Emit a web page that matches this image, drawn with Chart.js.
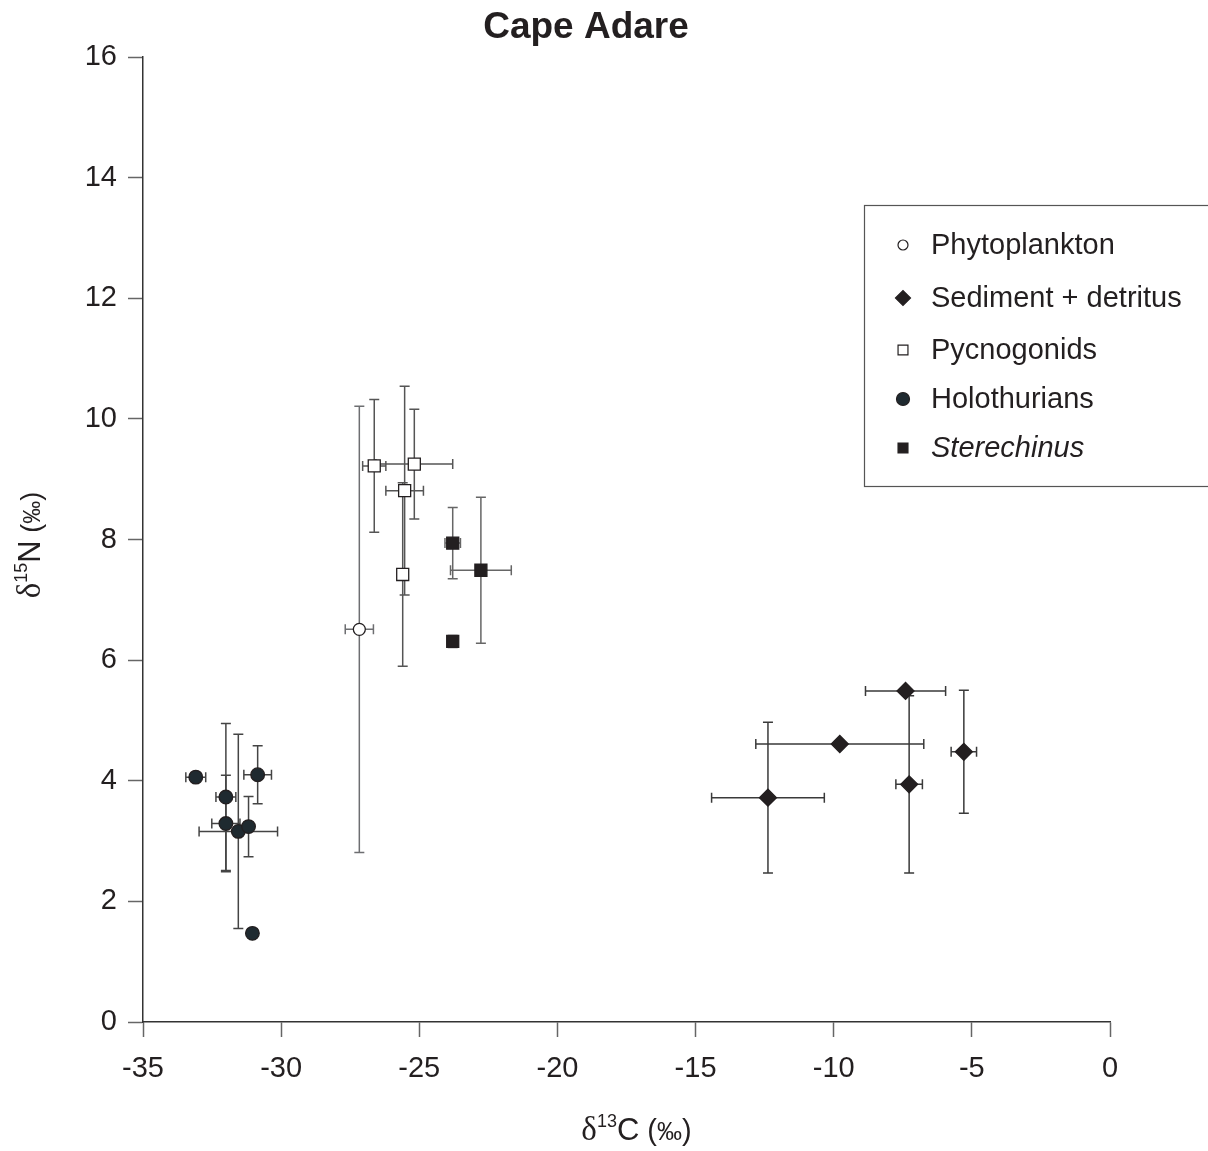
<!DOCTYPE html>
<html>
<head>
<meta charset="utf-8">
<script src="https://cdn.jsdelivr.net/npm/chart.js@4/dist/chart.umd.min.js"></script>
<style>
  html, body { margin: 0; padding: 0; background: #fff; }
  #wrap { width: 1208px; height: 1151px; }
</style>
</head>
<body>
<div id="wrap"><canvas id="chart" width="1208" height="1151"></canvas></div>
<script>
// values (delta 13C, delta 15N, and their +/- error)
const phytoX     = [-27.17];
const phytoY     = [6.51];
const phytoXErr  = [0.51];
const phytoYErr  = [3.70];

const sedX       = [-12.38, -9.78, -7.40, -7.27, -5.29];
const sedY       = [3.72, 4.61, 5.49, 3.94, 4.48];
const sedXErr    = [2.04, 3.04, 1.45, 0.48, 0.46];
const sedYErr    = [1.25, 0, 0, 1.47, 1.02];

const pycnoX     = [-26.63, -25.18, -25.53, -25.60];
const pycnoY     = [9.22, 9.25, 8.81, 7.42];
const pycnoXErr  = [0.42, 1.39, 0.68, 0];
const pycnoYErr  = [1.10, 0.91, 1.73, 1.52];

const holoX      = [-33.09, -32.00, -32.00, -31.55, -31.18, -30.85, -31.04];
const holoY      = [4.06, 3.73, 3.29, 3.16, 3.24, 4.10, 1.47];
const holoXErr   = [0.36, 0.36, 0.51, 1.42, 0, 0.50, 0];
const holoYErr   = [0, 1.22, 0.80, 1.61, 0.50, 0.48, 0];

const sterX      = [-23.79, -22.77, -23.79];
const sterY      = [7.94, 7.49, 6.31];
const sterXErr   = [0.28, 1.10, 0.10];
const sterYErr   = [0.59, 1.21, 0.10];

const xTicksMin = -35, xTicksMax = 0, xStep = 5;
const yTicksMin = 0, yTicksMax = 16, yStep = 2;

const INK  = '#231f20';
const FONT = '"Liberation Sans", Arial, sans-serif';

function toPoints(xs, ys, xe, ye) {
    return xs.map((x, i) => ({ x: x, y: ys[i], xErr: xe[i], yErr: ye[i] }));
}

const series = [
    { label: 'Phytoplankton',        data: toPoints(phytoX, phytoY, phytoXErr, phytoYErr),
      style: 'circle',  radius: 6,   fill: '#ffffff', bar: '#6d6e71', legendRadius: 5 },
    { label: 'Sediment + detritus',  data: toPoints(sedX, sedY, sedXErr, sedYErr),
      style: 'rectRot', radius: 8.5, fill: INK,       bar: '#3a3a3a', legendRadius: 7.5 },
    { label: 'Pycnogonids',          data: toPoints(pycnoX, pycnoY, pycnoXErr, pycnoYErr),
      style: 'rect',    radius: 8.5, fill: '#ffffff', bar: '#555555', legendRadius: 7 },
    { label: 'Holothurians',         data: toPoints(holoX, holoY, holoXErr, holoYErr),
      style: 'circle',  radius: 6.8, fill: '#1f2a30', bar: '#444444', legendRadius: 6.5 },
    { label: 'Sterechinus',          data: toPoints(sterX, sterY, sterXErr, sterYErr),
      style: 'rect',    radius: 8.5, fill: INK,       bar: '#666666', legendRadius: 7, italic: true },
];

const errorBars = {
    id: 'errorBars',
    beforeDatasetsDraw(chart) {
        const { ctx, scales: { x, y } } = chart;
        const cap = 5;
        ctx.save();
        ctx.lineWidth = 1.5;
        chart.data.datasets.forEach(ds => {
            ctx.strokeStyle = ds.barColor;
            ds.data.forEach(p => {
                const px = x.getPixelForValue(p.x);
                const py = y.getPixelForValue(p.y);
                ctx.beginPath();
                if (p.xErr) {
                    const l = x.getPixelForValue(p.x - p.xErr);
                    const r = x.getPixelForValue(p.x + p.xErr);
                    ctx.moveTo(l, py); ctx.lineTo(r, py);
                    ctx.moveTo(l, py - cap); ctx.lineTo(l, py + cap);
                    ctx.moveTo(r, py - cap); ctx.lineTo(r, py + cap);
                }
                if (p.yErr) {
                    const t = y.getPixelForValue(p.y + p.yErr);
                    const b = y.getPixelForValue(p.y - p.yErr);
                    ctx.moveTo(px, t); ctx.lineTo(px, b);
                    ctx.moveTo(px - cap, t); ctx.lineTo(px + cap, t);
                    ctx.moveTo(px - cap, b); ctx.lineTo(px + cap, b);
                }
                ctx.stroke();
            });
        });
        ctx.restore();
    }
};

// title, axis titles (with superscripts) and the boxed legend
const decorations = {
    id: 'decorations',
    afterDraw(chart) {
        const { ctx, chartArea: area } = chart;
        ctx.save();
        ctx.fillStyle = INK;
        ctx.textBaseline = 'alphabetic';

        ctx.font = 'bold 37px ' + FONT;
        ctx.textAlign = 'center';
        ctx.fillText('Cape Adare', 586, 38);

        // pieces of "δ13C (‰)" style titles
        function richTitle(parts) {
            let w = 0;
            parts.forEach(p => { ctx.font = p.font; p.w = ctx.measureText(p.t).width; w += p.w; });
            let cx = -w / 2;
            ctx.textAlign = 'left';
            parts.forEach(p => { ctx.font = p.font; ctx.fillText(p.t, cx, p.dy || 0); cx += p.w; });
        }
        const serif = '"Liberation Serif", "Times New Roman", serif';
        ctx.save();
        ctx.translate((area.left + area.right) / 2 + 10, 1140);
        richTitle([
            { t: 'δ', font: '33px ' + serif },
            { t: '13', font: '18px ' + FONT, dy: -13 },
            { t: 'C', font: '31px ' + FONT },
            { t: ' (', font: '29px ' + FONT },
            { t: '‰', font: '25px ' + FONT },
            { t: ')', font: '29px ' + FONT },
        ]);
        ctx.restore();

        ctx.save();
        ctx.translate(40, 545);
        ctx.rotate(-Math.PI / 2);
        richTitle([
            { t: 'δ', font: '33px ' + serif },
            { t: '15', font: '18px ' + FONT, dy: -13 },
            { t: 'N', font: '31px ' + FONT },
            { t: ' (', font: '27px ' + FONT },
            { t: '‰', font: '23px ' + FONT },
            { t: ')', font: '27px ' + FONT },
        ]);
        ctx.restore();

        // legend box
        ctx.strokeStyle = '#555';
        ctx.lineWidth = 1.2;
        ctx.strokeRect(864.5, 205.5, 360, 281);
        const rows = [245, 298, 350, 399, 448];
        chart.data.datasets.forEach((ds, i) => {
            ctx.fillStyle = ds.backgroundColor;
            ctx.strokeStyle = ds.borderColor;
            ctx.lineWidth = 1.2;
            Chart.helpers.drawPoint(ctx, {
                pointStyle: ds.pointStyle, rotation: 0, borderWidth: 1.2, radius: ds.legendRadius
            }, 903, rows[i]);
            ctx.fillStyle = INK;
            ctx.font = (ds.italic ? 'italic ' : '') + '29px ' + FONT;
            ctx.textAlign = 'left';
            ctx.textBaseline = 'middle';
            ctx.fillText(ds.label, 931, rows[i] + 1);
        });
        ctx.restore();
    }
};

new Chart(document.getElementById('chart'), {
    type: 'scatter',
    data: {
        datasets: series.map(s => ({
            label:            s.label,
            data:             s.data,
            pointStyle:       s.style,
            pointRadius:      s.radius,
            pointHoverRadius: s.radius,
            backgroundColor:  s.fill,
            borderColor:      INK,
            borderWidth:      1.3,
            barColor:         s.bar,
            legendRadius:     s.legendRadius,
            italic:           !!s.italic,
        }))
    },
    options: {
        responsive: false,
        animation:  false,
        layout: { padding: { top: 57, right: 98, bottom: 0, left: 0 } },
        plugins: {
            legend:  { display: false },
            title:   { display: false },
            tooltip: { enabled: false },
        },
        scales: {
            x: {
                type: 'linear',
                min: xTicksMin, max: xTicksMax,
                ticks: { stepSize: xStep, color: INK, padding: 15, font: { family: FONT, size: 29 } },
                grid:  { drawOnChartArea: false, drawTicks: true, tickLength: 15, tickColor: '#666', tickWidth: 1.5 },
                border: { color: '#333', width: 1.5 },
                afterFit: s => { s.height = 129; },
            },
            y: {
                type: 'linear',
                min: yTicksMin, max: yTicksMax,
                ticks: { stepSize: yStep, color: INK, padding: 11, font: { family: FONT, size: 29 } },
                grid:  { drawOnChartArea: false, drawTicks: true, tickLength: 15, tickColor: '#666', tickWidth: 1.5 },
                border: { color: '#333', width: 1.5 },
                afterFit: s => { s.width = 143; },
            }
        }
    },
    plugins: [errorBars, decorations]
});
</script>
</body>
</html>
